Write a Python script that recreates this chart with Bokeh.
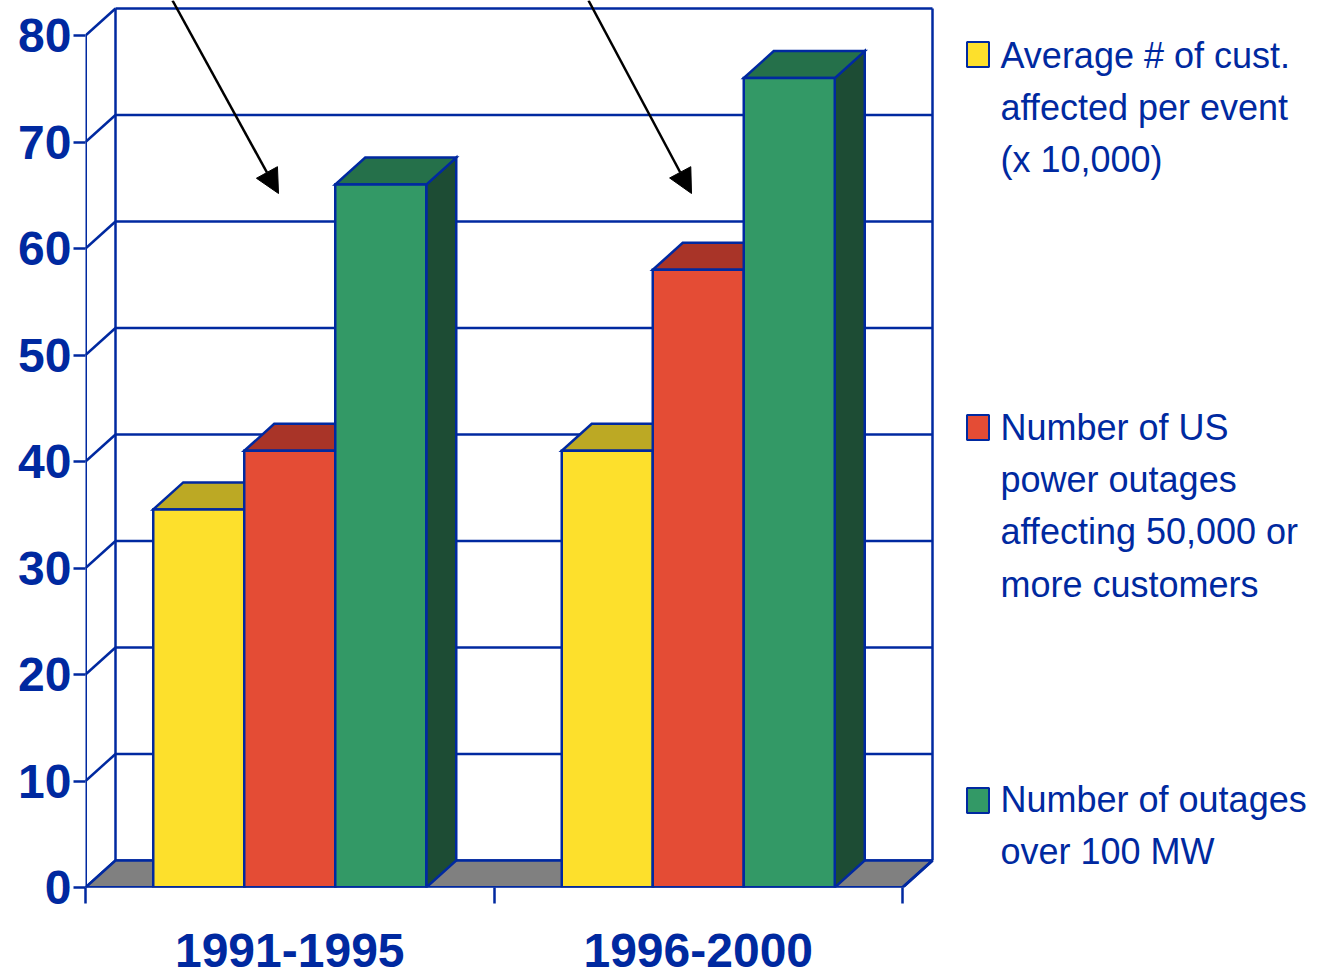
from bokeh.plotting import figure
from bokeh.models import FixedTicker, Range1d, Arrow, NormalHead
from bokeh.core.properties import value
from bokeh.embed import file_html
from bokeh.resources import INLINE

# ---------------- data ----------------
periods = ["1991-1995", "1996-2000"]
series_labels = [
    "Average # of cust.\naffected per event\n(x 10,000)",
    "Number of US\npower outages\naffecting 50,000 or\nmore customers",
    "Number of outages\nover 100 MW",
]
avg_customers = [35.5, 41]
outages_50k = [41, 58]
outages_100mw = [66, 76]
y_ticks = [0, 10, 20, 30, 40, 50, 60, 70, 80]

series_values = [avg_customers, outages_50k, outages_100mw]
front_colors = ["#FDE02C", "#E44C35", "#339966"]
top_colors = ["#BCA924", "#A93428", "#25704A"]
side_colors = ["#8C7D1A", "#7A251D", "#1D4C34"]

# ---------------- layout (px) ----------------
W, H = 1331, 980
FRAME_L = 85
BORDER_B = 93
PX_X = 408.5          # px per category
PX_Y = 10.65          # px per value unit
DEPTH_X, DEPTH_Y = 30, 27
BAR_W_PX = 91
BLUE = "#0029A0"
FONT = "Liberation Sans"
LW = 2.5

DX = DEPTH_X / PX_X
DY = DEPTH_Y / PX_Y


def xd(px):
    return (px - FRAME_L) / PX_X


def yd(py):
    return (H - BORDER_B - py) / PX_Y


n_cat = len(periods)
n_ser = len(series_values)
ymax = y_ticks[-1]

p = figure(width=W, height=H, output_backend="svg", toolbar_location=None,
           x_range=Range1d(0, (W - FRAME_L) / PX_X),
           y_range=Range1d(0, (H - BORDER_B) / PX_Y),
           min_border_left=FRAME_L, min_border_right=0,
           min_border_top=0, min_border_bottom=BORDER_B)
p.outline_line_color = None
p.xgrid.visible = False
p.ygrid.visible = False
p.background_fill_color = "white"
p.border_fill_color = "white"

# ---- back wall grid lines and left wall diagonals ----
gx, gy = [], []
for v in y_ticks:
    gx.append([DX, n_cat + DX]); gy.append([v + DY, v + DY])
    gx.append([0, DX]); gy.append([v, v + DY])
gx.append([DX, DX]); gy.append([DY, ymax + DY])
gx.append([n_cat + DX, n_cat + DX]); gy.append([DY, ymax + DY])
p.multi_line(gx, gy, line_color=BLUE, line_width=LW)

# ---- floor ----
p.patch([0, n_cat, n_cat + DX, DX], [0, 0, DY, DY], fill_color="#808080",
        line_color=BLUE, line_width=LW)

# ---- bars ----
bar_w = BAR_W_PX / PX_X
pad = (1 - n_ser * bar_w) / 2
xs, ys, fills = [], [], []
for i in range(n_cat):
    for j in range(n_ser):
        v = series_values[j][i]
        x0 = i + pad + j * bar_w
        x1 = x0 + bar_w
        xs.append([x1, x1 + DX, x1 + DX, x1]); ys.append([0, DY, v + DY, v]); fills.append(side_colors[j])
        xs.append([x0, x1, x1 + DX, x0 + DX]); ys.append([v, v, v + DY, v + DY]); fills.append(top_colors[j])
        xs.append([x0, x1, x1, x0]); ys.append([0, 0, v, v]); fills.append(front_colors[j])
p.patches(xs, ys, fill_color=fills, line_color=BLUE, line_width=LW, line_join="miter")

# ---- front edges ----
p.multi_line([[0, 0], [0, n_cat], [n_cat, n_cat + DX]],
             [[0, ymax], [0, 0], [0, DY]], line_color=BLUE, line_width=3)

# ---- arrows ----
for (sx, sy, ex, ey) in [(172, 0, 278, 193), (588, 0, 691, 193)]:
    p.add_layout(Arrow(x_start=xd(sx), y_start=yd(sy), x_end=xd(ex), y_end=yd(ey),
                       line_color="black", line_width=2.5,
                       end=NormalHead(size=24, fill_color="black", line_color="black")))

# ---- legend ----
leg_box_y = [54, 427, 800]
leg_text_y = [34, 406, 778]
p.rect(x=[xd(977.5)] * n_ser, y=[yd(v) for v in leg_box_y], width=22, height=25,
       width_units="screen", height_units="screen", fill_color=front_colors,
       line_color=BLUE, line_width=2)
p.text(x=[xd(1000)] * n_ser, y=[yd(v) for v in leg_text_y], text=series_labels,
       text_font=value(FONT), text_font_size="36px", text_color=BLUE,
       text_baseline="top", text_align="left", text_line_height=1.28)

# ---- axes ----
xa = p.xaxis[0]
xa.ticker = FixedTicker(ticks=[i + 0.5 for i in range(n_cat)],
                        minor_ticks=list(range(n_cat + 1)))
xa.major_label_overrides = {i + 0.5: periods[i] for i in range(n_cat)}
xa.axis_line_color = None
xa.major_tick_in = 0
xa.major_tick_out = 0
xa.minor_tick_in = 0
xa.minor_tick_out = 16
xa.minor_tick_line_color = BLUE
xa.minor_tick_line_width = 2.5
xa.major_label_standoff = 30
xa.major_label_text_font = FONT
xa.major_label_text_font_style = "bold"
xa.major_label_text_font_size = "48px"
xa.major_label_text_color = BLUE

ya = p.yaxis[0]
ya.ticker = FixedTicker(ticks=y_ticks)
ya.axis_line_color = None
ya.major_tick_in = 0
ya.major_tick_out = 12
ya.major_tick_line_color = BLUE
ya.major_tick_line_width = 2.5
ya.minor_tick_line_color = None
ya.major_label_standoff = 2
ya.major_label_text_font = FONT
ya.major_label_text_font_style = "bold"
ya.major_label_text_font_size = "48px"
ya.major_label_text_color = BLUE

open("out.html", "w").write(file_html(p, INLINE))
